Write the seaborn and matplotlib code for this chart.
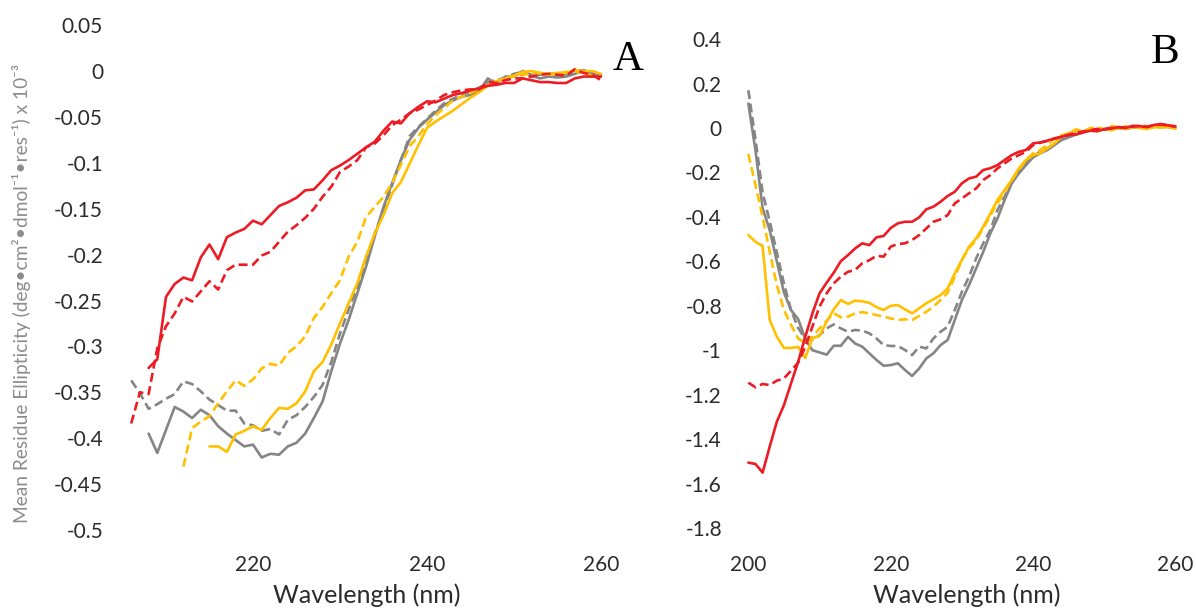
import numpy as np
import pandas as pd
import matplotlib
matplotlib.use("Agg")
import matplotlib.pyplot as plt
import seaborn as sns

# ---------------- Panel A data ----------------
a_red_solid_start = 208
a_red_solid = [-0.3235, -0.314, -0.246, -0.232, -0.225, -0.228, -0.203, -0.189, -0.205, -0.181,
               -0.176, -0.172, -0.163, -0.167, -0.157, -0.147, -0.143, -0.138, -0.130, -0.129,
               -0.119, -0.108, -0.103, -0.097, -0.090, -0.083, -0.077, -0.065, -0.055, -0.057,
               -0.046, -0.039, -0.033, -0.034, -0.030, -0.026, -0.024, -0.021, -0.019, -0.016,
               -0.015, -0.013, -0.013, -0.008, -0.010, -0.012, -0.012, -0.013, -0.013, -0.008,
               -0.006, -0.006, -0.006]
a_red_dash_start = 206
a_red_dash = [-0.384, -0.350, -0.352, -0.302, -0.278, -0.264, -0.246, -0.251, -0.240, -0.229,
              -0.238, -0.217, -0.211, -0.211, -0.211, -0.201, -0.197, -0.186, -0.175, -0.168,
              -0.160, -0.150, -0.137, -0.126, -0.110, -0.104, -0.097, -0.083, -0.079, -0.070,
              -0.059, -0.053, -0.046, -0.042, -0.037, -0.032, -0.026, -0.023, -0.021, -0.020,
              -0.020, -0.012, -0.013, -0.010, -0.008, -0.008, -0.006, -0.004, -0.003, -0.004,
              -0.005, 0.002, -0.002, -0.004, -0.010]
a_gray_dash_start = 206
a_gray_dash = [-0.337, -0.351, -0.368, -0.363, -0.357, -0.352, -0.338, -0.341, -0.349, -0.358,
               -0.364, -0.370, -0.370, -0.384, -0.386, -0.392, -0.390, -0.396, -0.380, -0.375,
               -0.366, -0.355, -0.342, -0.317, -0.286, -0.260, -0.235, -0.206, -0.177, -0.151,
               -0.124, -0.097, -0.071, -0.061, -0.052, -0.043, -0.035, -0.030, -0.026, -0.022,
               -0.018, -0.012, -0.010, -0.007, -0.003, -0.001, -0.004, -0.004, -0.002, -0.004,
               -0.003, -0.001, 0.001, -0.002, -0.003]
a_gray_solid_start = 208
a_gray_solid = [-0.395, -0.416, -0.391, -0.366, -0.371, -0.378, -0.369, -0.375, -0.387, -0.395,
                -0.402, -0.409, -0.407, -0.421, -0.417, -0.418, -0.409, -0.405, -0.395, -0.378,
                -0.360, -0.327, -0.297, -0.271, -0.242, -0.213, -0.180, -0.148, -0.122, -0.097,
                -0.075, -0.062, -0.053, -0.045, -0.037, -0.032, -0.028, -0.026, -0.022, -0.008,
                -0.014, -0.006, -0.006, 0.000, -0.005, -0.008, -0.006, -0.007, -0.006, -0.003,
                0.001, -0.003, -0.004]
a_yellow_dash_start = 212
a_yellow_dash = [-0.431, -0.389, -0.382, -0.376, -0.362, -0.349, -0.337, -0.343, -0.336, -0.324,
                 -0.319, -0.321, -0.307, -0.300, -0.289, -0.269, -0.257, -0.242, -0.228, -0.202,
                 -0.186, -0.159, -0.148, -0.137, -0.122, -0.102, -0.082, -0.071, -0.058, -0.048,
                 -0.040, -0.032, -0.028, -0.024, -0.019, -0.015, -0.011, -0.008, -0.006, -0.004,
                 -0.003, -0.002, -0.004, -0.003, -0.001, 0.000, -0.003, -0.005, -0.006]
a_yellow_solid_start = 215
a_yellow_solid = [-0.409, -0.409, -0.415, -0.396, -0.392, -0.387, -0.391, -0.378, -0.367, -0.368,
                  -0.362, -0.349, -0.327, -0.317, -0.298, -0.275, -0.253, -0.231, -0.202, -0.177,
                  -0.157, -0.133, -0.121, -0.101, -0.081, -0.062, -0.055, -0.049, -0.043, -0.036,
                  -0.029, -0.023, -0.016, -0.011, -0.008, -0.005, -0.001, 0.000, -0.002, -0.003,
                  -0.002, -0.002, 0.001, 0.000, 0.000, -0.003]

# ---------------- Panel B data (200-260 nm) ----------------
b_start = 200
b_red_solid = [-1.506, -1.512, -1.551, -1.434, -1.322, -1.247, -1.149, -1.052, -0.939, -0.834,
               -0.744, -0.696, -0.651, -0.599, -0.572, -0.542, -0.519, -0.527, -0.492, -0.486,
               -0.450, -0.429, -0.422, -0.422, -0.402, -0.366, -0.354, -0.332, -0.306, -0.287,
               -0.249, -0.227, -0.219, -0.189, -0.181, -0.167, -0.144, -0.122, -0.107, -0.099,
               -0.069, -0.065, -0.057, -0.047, -0.039, -0.032, -0.029, -0.020, -0.012, -0.015,
               -0.005, -0.002, 0.004, 0.000, 0.010, 0.008, 0.004, 0.014, 0.018, 0.012, 0.008]
b_red_dash = [-1.146, -1.167, -1.152, -1.157, -1.137, -1.127, -1.092, -1.056, -0.984, -0.894,
              -0.804, -0.744, -0.699, -0.669, -0.647, -0.639, -0.609, -0.595, -0.575, -0.579,
              -0.534, -0.522, -0.519, -0.504, -0.482, -0.452, -0.422, -0.411, -0.392, -0.339,
              -0.317, -0.294, -0.272, -0.234, -0.212, -0.182, -0.159, -0.137, -0.122, -0.107,
              -0.077, -0.066, -0.058, -0.048, -0.040, -0.030, -0.022, -0.016, -0.010, -0.004,
              -0.008, 0.000, 0.004, 0.002, 0.006, 0.010, 0.006, 0.012, 0.016, 0.010, 0.006]
b_gray_solid = [0.110, -0.100, -0.360, -0.460, -0.600, -0.740, -0.820, -0.860, -0.950, -1.000,
                -1.010, -1.020, -0.980, -0.980, -0.940, -0.970, -0.984, -1.014, -1.044, -1.070,
                -1.067, -1.059, -1.089, -1.116, -1.082, -1.037, -1.014, -0.977, -0.954, -0.864,
                -0.774, -0.707, -0.632, -0.557, -0.474, -0.407, -0.324, -0.249, -0.204, -0.167,
                -0.132, -0.114, -0.099, -0.077, -0.054, -0.042, -0.030, -0.020, -0.012, -0.010,
                -0.004, -0.002, 0.000, -0.004, 0.002, 0.004, 0.000, 0.006, 0.010, 0.004, 0.002]
b_gray_dash = [0.170, -0.050, -0.290, -0.420, -0.560, -0.700, -0.820, -0.900, -0.950, -0.954,
               -0.932, -0.902, -0.884, -0.902, -0.917, -0.909, -0.912, -0.924, -0.947, -0.977,
               -0.981, -0.981, -0.999, -1.022, -0.984, -0.992, -0.947, -0.917, -0.894, -0.819,
               -0.737, -0.669, -0.587, -0.519, -0.459, -0.369, -0.309, -0.242, -0.197, -0.159,
               -0.129, -0.106, -0.092, -0.069, -0.051, -0.036, -0.024, -0.016, -0.008, -0.010,
               -0.002, 0.002, -0.002, 0.004, 0.000, 0.006, 0.002, 0.008, 0.004, 0.006, 0.000]
b_yellow_solid = [-0.482, -0.512, -0.531, -0.864, -0.939, -0.990, -0.990, -0.985, -1.035, -0.946,
                  -0.936, -0.872, -0.816, -0.774, -0.792, -0.777, -0.780, -0.787, -0.806, -0.819,
                  -0.800, -0.797, -0.816, -0.834, -0.812, -0.789, -0.771, -0.752, -0.722, -0.654,
                  -0.594, -0.534, -0.497, -0.444, -0.384, -0.324, -0.279, -0.234, -0.181, -0.144,
                  -0.122, -0.114, -0.092, -0.069, -0.039, -0.024, -0.010, -0.020, 0.000, -0.012,
                  -0.006, -0.010, 0.000, -0.004, 0.004, 0.000, -0.004, 0.004, 0.002, 0.006, -0.004]
b_yellow_dash = [-0.117, -0.257, -0.399, -0.557, -0.707, -0.819, -0.887, -0.947, -0.969, -0.939,
                 -0.902, -0.867, -0.834, -0.852, -0.849, -0.834, -0.829, -0.834, -0.842, -0.849,
                 -0.857, -0.864, -0.861, -0.864, -0.846, -0.827, -0.804, -0.774, -0.741, -0.669,
                 -0.594, -0.541, -0.504, -0.452, -0.392, -0.339, -0.287, -0.234, -0.189, -0.144,
                 -0.114, -0.099, -0.077, -0.047, -0.032, -0.024, -0.006, -0.014, -0.002, 0.004,
                 -0.006, 0.010, 0.002, 0.008, 0.000, 0.006, 0.012, 0.004, 0.010, 0.004, 0.000]

a_xticks = [220, 240, 260]
a_yticks = [0.05, 0, -0.05, -0.1, -0.15, -0.2, -0.25, -0.3, -0.35, -0.4, -0.45, -0.5]
a_yticklabels = ["0.05", "0", "-0.05", "-0.1", "-0.15", "-0.2", "-0.25", "-0.3", "-0.35", "-0.4", "-0.45", "-0.5"]
b_xticks = [200, 220, 240, 260]
b_yticks = [0.4, 0.2, 0, -0.2, -0.4, -0.6, -0.8, -1, -1.2, -1.4, -1.6, -1.8]
b_yticklabels = ["0.4", "0.2", "0", "-0.2", "-0.4", "-0.6", "-0.8", "-1", "-1.2", "-1.4", "-1.6", "-1.8"]

RED = "#ED1C24"
GRAY = "#858585"
YELLOW = "#FFC000"
DASH = (0, (3.4, 1.7))

sns.set_style("white")
plt.rcParams["font.family"] = ["Lato", "DejaVu Sans"]

W, H = 1196, 613
fig = plt.figure(figsize=(W / 100, H / 100), dpi=100)

def frac_box(left_px, right_px, top_px, bottom_px):
    return [left_px / W, 1 - bottom_px / H, (right_px - left_px) / W, (bottom_px - top_px) / H]

axA = fig.add_axes(frac_box(122.5, 611.4, 15.9, 548.4))
axB = fig.add_axes(frac_box(745.5, 1184.0, 16.9, 548.4))

def draw(ax, start, vals, color, ls):
    wl = np.arange(start, start + len(vals))
    df = pd.DataFrame({"wl": wl, "v": vals})
    sns.lineplot(data=df, x="wl", y="v", ax=ax, color=color, linestyle=ls,
                 linewidth=1.9, sort=False, estimator=None)

# Panel A
draw(axA, a_gray_solid_start, a_gray_solid, GRAY, "-")
draw(axA, a_gray_dash_start, a_gray_dash, GRAY, DASH)
draw(axA, a_yellow_solid_start, a_yellow_solid, YELLOW, "-")
draw(axA, a_yellow_dash_start, a_yellow_dash, YELLOW, DASH)
draw(axA, a_red_dash_start, a_red_dash, RED, DASH)
draw(axA, a_red_solid_start, a_red_solid, RED, "-")

# Panel B
draw(axB, b_start, b_gray_solid, GRAY, "-")
draw(axB, b_start, b_gray_dash, GRAY, DASH)
draw(axB, b_start, b_yellow_solid, YELLOW, "-")
draw(axB, b_start, b_yellow_dash, YELLOW, DASH)
draw(axB, b_start, b_red_dash, RED, DASH)
draw(axB, b_start, b_red_solid, RED, "-")

axA.set_xlim(205, 261.2)
axA.set_ylim(-0.5201, 0.0601)
axB.set_xlim(199.6, 261.2)
axB.set_ylim(-1.892, 0.5)

TICKC = "#2b2b2b"
for ax, xt, yt, ytl, ypad in [(axA, a_xticks, a_yticks, a_yticklabels, 14),
                              (axB, b_xticks, b_yticks, b_yticklabels, 17)]:
    ax.set_xticks(xt)
    ax.set_xticklabels([str(t) for t in xt])
    ax.set_yticks(yt)
    ax.set_yticklabels(ytl)
    ax.tick_params(axis="x", length=0, pad=5, labelsize=15, labelcolor=TICKC)
    ax.tick_params(axis="y", length=0, pad=ypad, labelsize=15, labelcolor=TICKC)
    ax.set_xlabel("")
    ax.set_ylabel("")
    for s in ax.spines.values():
        s.set_visible(False)
    ax.grid(False)
    ax.patch.set_alpha(0)

fig.text(367 / W, 1 - 595 / H, "Wavelength (nm)", ha="center", va="center",
         fontsize=18, color=TICKC)
fig.text(966.7 / W, 1 - 595 / H, "Wavelength (nm)", ha="center", va="center",
         fontsize=18, color=TICKC)
fig.text(22 / W, 1 - 293 / H,
         "Mean Residue Ellipticity (deg\u2022cm\u00b2\u2022dmol\u207b\u00b9\u2022res\u207b\u00b9) x 10\u207b\u00b3",
         rotation=90, ha="center", va="center", fontsize=13.8, color="#8c8c8c",
         family=["Lato", "DejaVu Sans"])

fig.text(628 / W, 1 - 60 / H, "A", ha="center", va="center", fontsize=31,
         family=["Liberation Serif", "DejaVu Serif"], color="black")
fig.text(1165 / W, 1 - 53 / H, "B", ha="center", va="center", fontsize=31,
         family=["Liberation Serif", "DejaVu Serif"], color="black")

fig.savefig("out.png", dpi=100)
